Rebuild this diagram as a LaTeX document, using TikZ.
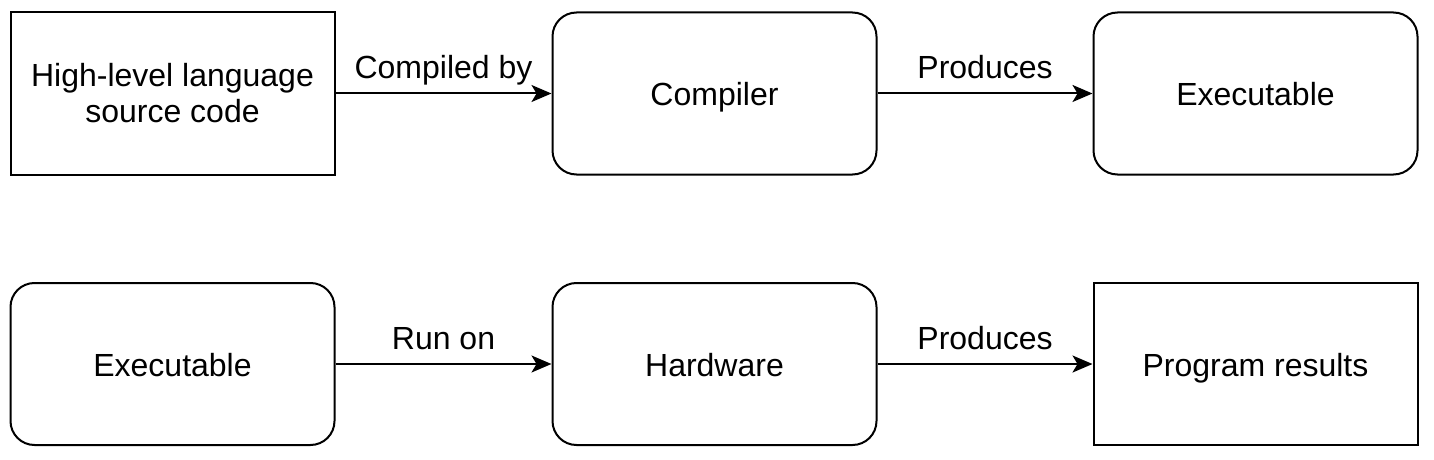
\documentclass[tikz,border=0pt]{standalone}
\usepackage{fontspec}
\setmainfont{Liberation Sans}
\usetikzlibrary{arrows.meta}

\begin{document}
\begin{tikzpicture}[
  x=0.5pt, y=-0.5pt,
  box/.style={draw=black, line width=1pt, minimum width=162pt, minimum height=81pt,
    align=center, inner sep=0pt, font=\fontsize{16}{18}\selectfont},
  onebox/.style={box, text height=14pt, text depth=2pt},
  rbox/.style={onebox, rounded corners=12pt},
  lbl/.style={font=\fontsize{16}{18}\selectfont, text height=11.5pt, text depth=3.5pt, above=0pt},
  >={Stealth[length=10pt,width=8.5pt,inset=2.5pt]},
  arrow/.style={line width=1pt, ->}
]
\useasboundingbox (0,0) rectangle (1434,460);

% top row
\node[box] (src) at (172.5,93.5) {High-level language\\source code};
\node[rbox] (comp) at (714.5,93.5) {Compiler};
\node[rbox] (exe1) at (1255.5,93.5) {Executable};

% bottom row
\node[rbox] (exe2) at (172.5,364) {Executable};
\node[rbox] (hw) at (714.5,364) {Hardware};
\node[onebox] (res) at (1255.5,364) {Program results};

\draw[arrow] (src) -- node[lbl] (cby) {Compiled by} (comp);
\draw[arrow] (comp) -- node[lbl] (prod1) {Produces} (exe1);
\draw[arrow] (exe2) -- node[lbl] (run) {Run on} (hw);
\draw[arrow] (hw) -- node[lbl] (prod2) {Produces} (res);

\end{tikzpicture}
\end{document}
